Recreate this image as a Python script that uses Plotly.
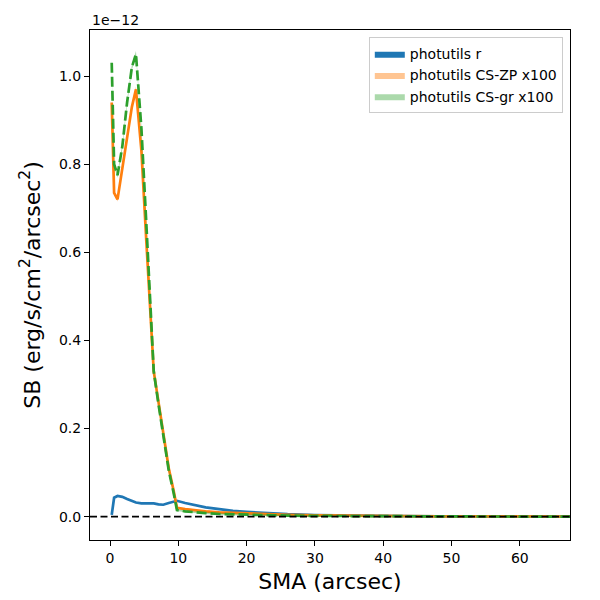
import plotly.graph_objects as go

# semi-major axis grid (arcsec), shared by the three profiles
sma = [0.25, 0.6, 1.1, 1.8, 2.5, 3.2, 3.8, 4.6, 5.3, 6.4, 7.1, 7.8, 8.6, 9.3, 9.8,
       11.0, 12.5, 14.0, 16.0, 18.0, 20.0, 23.0, 26.0, 30.0, 34.0, 38.0, 43.0,
       48.0, 53.0, 58.0, 67.4]

# surface brightness in units of 1e-12 erg/s/cm^2/arcsec^2
sb_r = [0.004, 0.043, 0.047, 0.045, 0.040, 0.035, 0.032, 0.030, 0.030, 0.030,
        0.028, 0.027, 0.031, 0.034, 0.036, 0.031, 0.026, 0.021, 0.017, 0.013,
        0.011, 0.008, 0.0055, 0.0035, 0.0023, 0.0016, 0.0011, 0.0008, 0.0006,
        0.0004, 0.0003]
sb_zp = [0.94, 0.735, 0.72, 0.79, 0.87, 0.93, 0.97, 0.83, 0.63, 0.33, 0.26,
         0.185, 0.11, 0.06, 0.02, 0.017, 0.014, 0.012, 0.0095, 0.0082, 0.0072,
         0.0055, 0.0042, 0.003, 0.0022, 0.0016, 0.0011, 0.0008, 0.0006, 0.0004,
         0.0003]
sb_gr = [1.03, 0.80, 0.775, 0.84, 0.94, 1.02, 1.05, 0.88, 0.67, 0.33, 0.255,
         0.18, 0.105, 0.055, 0.015, 0.012, 0.0095, 0.008, 0.006, 0.005, 0.0042,
         0.0032, 0.0024, 0.0017, 0.0012, 0.0009, 0.0007, 0.0005, 0.0004, 0.0003,
         0.0002]

# uncertainties (same units)
err_r = [0.001, 0.001, 0.001, 0.001, 0.001, 0.001, 0.001, 0.001, 0.001, 0.001,
         0.001, 0.001, 0.001, 0.001, 0.001, 0.001, 0.001, 0.001, 0.001, 0.001,
         0.001, 0.001, 0.001, 0.001, 0.001, 0.001, 0.001, 0.001, 0.001, 0.001,
         0.001]
err_zp = [0.006, 0.005, 0.005, 0.005, 0.005, 0.005, 0.006, 0.005, 0.004, 0.003,
          0.003, 0.003, 0.002, 0.002, 0.002, 0.002, 0.002, 0.002, 0.002, 0.002,
          0.002, 0.002, 0.002, 0.002, 0.002, 0.002, 0.002, 0.002, 0.002, 0.002,
          0.002]
err_gr = [0.007, 0.006, 0.006, 0.006, 0.006, 0.006, 0.007, 0.006, 0.005, 0.004,
          0.003, 0.003, 0.003, 0.002, 0.002, 0.002, 0.002, 0.002, 0.002, 0.002,
          0.002, 0.002, 0.002, 0.002, 0.002, 0.002, 0.002, 0.002, 0.002, 0.002,
          0.002]

series = [
    ("photutils r", sb_r, err_r, "#1f77b4", "rgba(31,119,180,1.0)", "solid"),
    ("photutils CS-ZP x100", sb_zp, err_zp, "#ff7f0e", "rgba(255,127,14,0.45)", "solid"),
    ("photutils CS-gr x100", sb_gr, err_gr, "#2ca02c", "rgba(44,160,44,0.4)", "10px,4px"),
]

fig = go.Figure()

for name, vals, err, col, fillcol, dash in series:
    lo = [v - e for v, e in zip(vals, err)]
    hi = [v + e for v, e in zip(vals, err)]
    fig.add_trace(go.Scatter(x=sma, y=lo, mode="lines", line=dict(width=0),
                             showlegend=False, hoverinfo="skip"))
    fig.add_trace(go.Scatter(x=sma, y=hi, mode="lines", line=dict(width=0),
                             fill="tonexty", fillcolor=fillcol, name=name))
    fig.add_trace(go.Scatter(x=sma, y=vals, mode="lines", showlegend=False,
                             line=dict(color=col, width=2.7, dash=dash)))

# zero line
fig.add_shape(type="line", xref="paper", x0=0, x1=1, yref="y", y0=0, y1=0,
              line=dict(color="black", width=1.8, dash="7px,3.5px"))

fig.add_annotation(text="1e\u221212", xref="paper", yref="paper", x=0, y=1,
                   xanchor="left", yanchor="bottom", showarrow=False,
                   font=dict(size=14, color="black"))

axis_style = dict(showline=True, linecolor="black", linewidth=1.1, mirror=True,
                  ticks="outside", ticklen=5, tickwidth=1.1, tickcolor="black",
                  showgrid=False, zeroline=False,
                  tickfont=dict(size=14, color="black"))

fig.update_xaxes(range=[-2.93, 67.35], tickvals=[0, 10, 20, 30, 40, 50, 60],
                 title=dict(text="SMA (arcsec)", font=dict(size=22, color="black"),
                            standoff=8),
                 **axis_style)
fig.update_yaxes(range=[-0.053, 1.1045], tickvals=[0, 0.2, 0.4, 0.6, 0.8, 1.0],
                 tickformat=".1f",
                 title=dict(text="SB (erg/s/cm<sup>2</sup>/arcsec<sup>2</sup>)",
                            font=dict(size=22, color="black"), standoff=12),
                 **axis_style)

fig.update_layout(
    width=600, height=600,
    margin=dict(l=82, r=38, t=22, b=68),
    paper_bgcolor="white", plot_bgcolor="white",
    font=dict(family="DejaVu Sans", color="black"),
    legend=dict(x=0.985, y=0.986, xanchor="right", yanchor="top",
                traceorder="normal",
                bgcolor="rgba(255,255,255,0.8)", bordercolor="#cccccc",
                borderwidth=1, font=dict(size=14)),
)

fig.write_html("out.html")
